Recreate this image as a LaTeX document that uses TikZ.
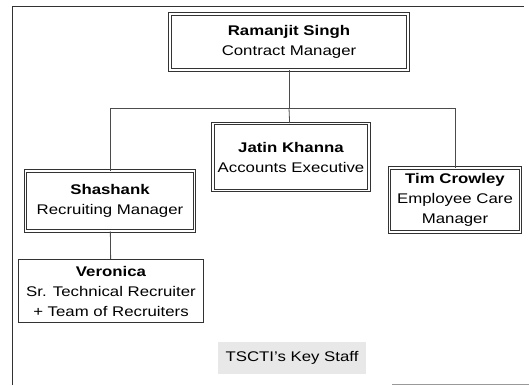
\documentclass[tikz,border=0pt]{standalone}
\usepackage{fontspec}
\setmainfont{Liberation Sans}[FakeStretch=1.2]

\begin{document}
\begin{tikzpicture}[x=1pt, y=-1pt,
    every node/.style={align=center, inner sep=0pt, font=\fontsize{14}{20}\selectfont},
    staff/.style={draw=black!80, line width=0.9pt, double=white, double distance=1.4pt},
    plain/.style={draw=black!80, line width=0.9pt},
    link/.style={draw=black!70, line width=0.8pt}]

    \useasboundingbox (0,0) rectangle (529,385);

    % frame of the page
    \draw[black!80, line width=0.9pt] (12,385) -- (12,6) -- (524,6);
    \draw[black!40, line width=0.8pt] (392,384) -- (529,384);

    \node[staff, minimum width=238pt, minimum height=56pt] (ram) at (289,42)
        {\textbf{Ramanjit Singh}\\Contract Manager};

    \node[staff, minimum width=156pt, minimum height=67pt] (jatin) at (291,157)
        {\textbf{Jatin Khanna}\\Accounts Executive};

    \node[staff, minimum width=169pt, minimum height=60pt] (shash) at (110,201)
        {\textbf{Shashank}\\Recruiting Manager};

    \node[staff, minimum width=131pt, minimum height=64pt] (tim) at (455,200)
        {\textbf{Tim Crowley}\\Employee Care\\Manager};

    \node[plain, minimum width=185pt, minimum height=63pt] (vero) at (111,291)
        {\textbf{Veronica}\\Sr. Technical Recruiter\\+ Team of Recruiters};

    \node[fill=black!9, minimum width=148pt, minimum height=32pt] (caption) at (292,358)
        {TSCTI's Key Staff};

    \coordinate (bus) at (289,108);

    \draw[link] (ram) to (bus);
    \draw[link] (bus) to (jatin);
    \draw[link] (shash.north) |- (bus);
    \draw[link] (bus) -| (tim.north);
    \draw[link] (shash) to (vero);
\end{tikzpicture}
\end{document}
